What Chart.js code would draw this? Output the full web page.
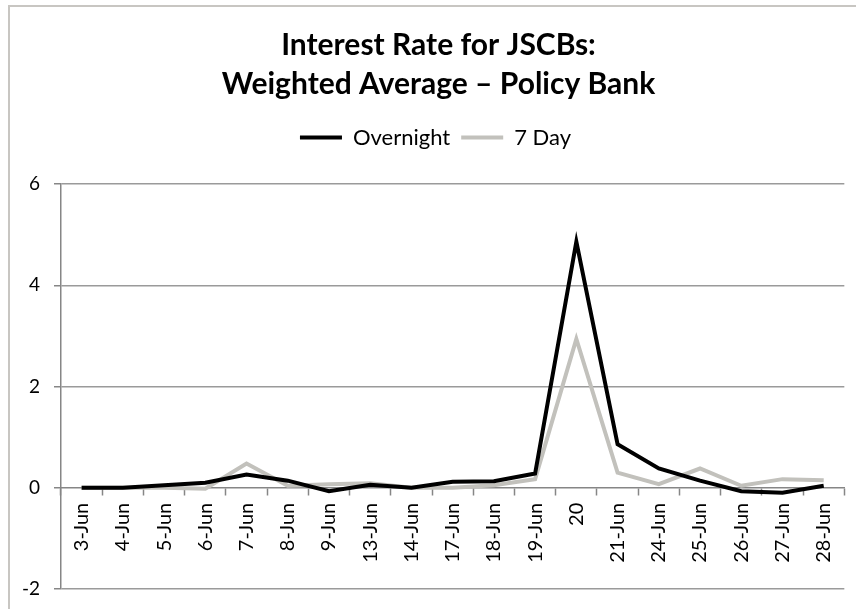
<!DOCTYPE html>
<html>
<head>
<meta charset="utf-8">
<script src="https://cdn.jsdelivr.net/npm/chart.js@4.4.0/dist/chart.umd.min.js"></script>
<style>
  body { margin: 0; background: #fff; }
  #wrap { position: relative; width: 856px; height: 609px; }
  #frame { position: absolute; left: 8px; top: 5px; right: 0; bottom: 0;
           border-left: 2px solid #c8c6c2; border-top: 2px solid #c8c6c2; }
  canvas { position: absolute; left: 0; top: 0; }
</style>
</head>
<body>
<div id="wrap">
  <div id="frame"></div>
  <canvas id="rateChart" width="856" height="609"></canvas>
</div>
<script>
// Datos
const dates = ["3-Jun", "4-Jun", "5-Jun", "6-Jun", "7-Jun", "8-Jun", "9-Jun", "13-Jun", "14-Jun",
  "17-Jun", "18-Jun", "19-Jun", "20", "21-Jun", "24-Jun", "25-Jun", "26-Jun", "27-Jun", "28-Jun"];
const overnight = [0, 0, 0.05, 0.1, 0.26, 0.14, -0.07, 0.06, 0, 0.12, 0.13, 0.28, 4.86, 0.86, 0.38, 0.14, -0.07, -0.1, 0.04];
const sevenDay = [0, 0, 0, -0.02, 0.48, 0.04, 0.07, 0.09, 0, 0, 0.05, 0.17, 2.94, 0.3, 0.07, 0.38, 0.04, 0.17, 0.15];
const yTicks = [-2, 0, 2, 4, 6];

const fontFamily = "Lato, 'Open Sans', sans-serif";

// Espacio extra debajo de la leyenda y desplazamiento del encabezado
const headerTweaks = {
  id: "headerTweaks",
  beforeInit(chart) {
    const originalFit = chart.legend.fit;
    chart.legend.fit = function fit() {
      originalFit.bind(chart.legend)();
      this.height += 25.5;
    };
  },
  afterLayout(chart) {
    chart.titleBlock.left += 16;
    chart.titleBlock.right += 16;
    chart.legend.left += 13;
    chart.legend.right += 13;
  },
};

document.addEventListener("DOMContentLoaded", () => {
  const ctx = document.getElementById("rateChart").getContext("2d");

  new Chart(ctx, {
    type: "line",
    data: {
      labels: dates,
      datasets: [
        {
          label: "Overnight",
          data: overnight,
          borderColor: "#000000",
          backgroundColor: "#000000",
          borderWidth: 4,
          pointRadius: 0,
          tension: 0,
        },
        {
          label: "7 Day",
          data: sevenDay,
          borderColor: "#c2c1bc",
          backgroundColor: "#c2c1bc",
          borderWidth: 4,
          pointRadius: 0,
          tension: 0,
        },
      ],
    },
    plugins: [headerTweaks],
    options: {
      responsive: false,
      animation: false,
      devicePixelRatio: 1,
      layout: { padding: { left: 0, right: 11, top: 0, bottom: 20 } },
      plugins: {
        title: {
          display: true,
          text: ["Interest Rate for JSCBs:", "Weighted Average \u2013 Policy Bank"],
          color: "#000",
          font: { family: fontFamily, size: 30, weight: "bold", lineHeight: 1.3 },
          padding: { top: 25.5, bottom: 12 },
        },
        legend: {
          display: true,
          labels: {
            color: "#000",
            font: { family: fontFamily, size: 22 },
            boxWidth: 42,
            boxHeight: 4,
            padding: 11,
            generateLabels: (chart) =>
              chart.data.datasets.map((ds, i) => ({
                text: ds.label,
                fillStyle: ds.borderColor,
                strokeStyle: ds.borderColor,
                lineWidth: 0,
                datasetIndex: i,
              })),
          },
        },
        tooltip: { enabled: false },
      },
      scales: {
        x: {
          position: { y: 0 },
          offset: true,
          afterFit: (scale) => {
            scale.paddingTop = 0;
            scale.paddingBottom = 0;
          },
          grid: {
            display: true,
            offset: true,
            drawOnChartArea: false,
            drawTicks: true,
            tickLength: 7,
            tickColor: "#868686",
            tickWidth: 1.5,
          },
          border: { display: true, color: "#868686", width: 1.5 },
          ticks: {
            autoSkip: false,
            maxRotation: 90,
            minRotation: 90,
            padding: 8,
            color: "#000",
            font: { family: fontFamily, size: 20 },
          },
        },
        y: {
          min: -2,
          max: 6,
          afterFit: (scale) => {
            scale.width = 61;
            scale.paddingTop = 0;
            scale.paddingBottom = 0;
          },
          afterBuildTicks: (scale) => {
            scale.ticks = yTicks.map((v) => ({ value: v }));
          },
          grid: {
            color: (c) => (c.tick && c.tick.value === 0 ? "rgba(0,0,0,0)" : "#9a9a9a"),
            lineWidth: 1.5,
            drawTicks: true,
            tickLength: 7,
            tickColor: "#868686",
          },
          border: { display: true, color: "#868686", width: 1.5 },
          ticks: {
            padding: 14,
            color: "#000",
            font: { family: fontFamily, size: 19 },
          },
        },
      },
    },
  });
});
</script>
</body>
</html>
